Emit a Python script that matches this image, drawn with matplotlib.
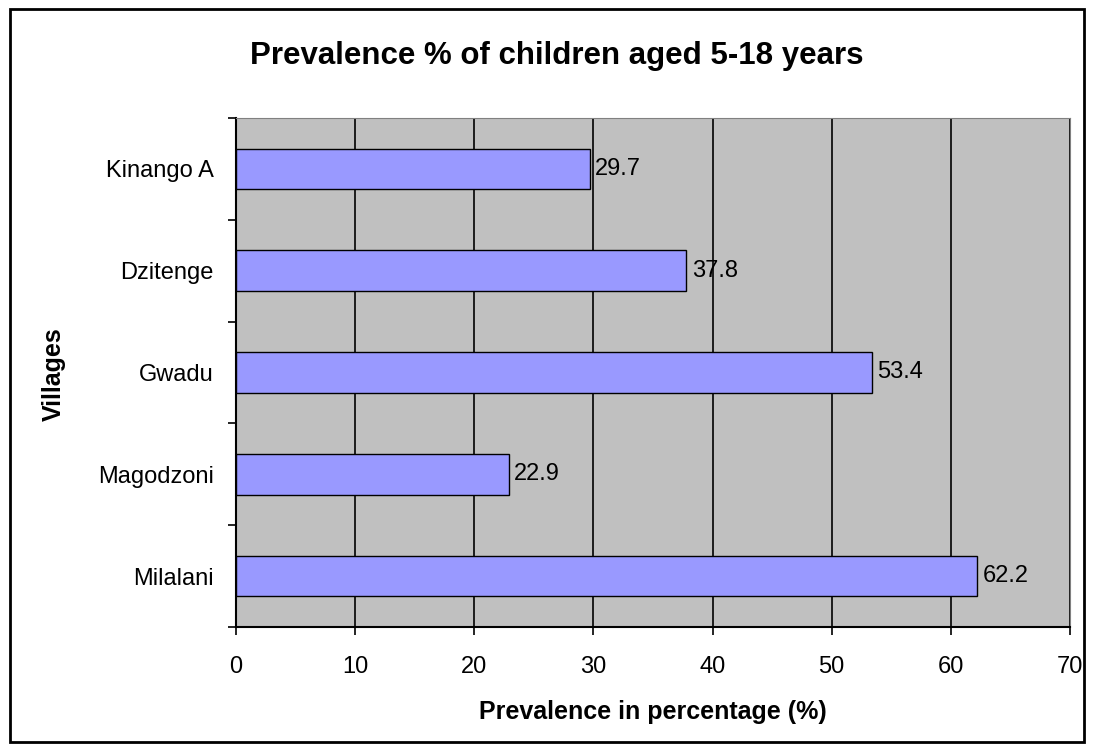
import matplotlib.pyplot as plt
from matplotlib.patches import Rectangle

plt.rcParams['font.family'] = ['Liberation Sans', 'DejaVu Sans']

villages = ['Kinango A', 'Dzitenge', 'Gwadu', 'Magodzoni', 'Milalani']
prevalence = [29.7, 37.8, 53.4, 22.9, 62.2]
x_ticks = [0, 10, 20, 30, 40, 50, 60, 70]

fig = plt.figure(figsize=(10.94, 7.51), dpi=100)
ax = fig.add_axes([0.2157, 0.1651, 0.7623, 0.6778])

# border around the whole figure
fig.patches.append(Rectangle((0.009, 0.012), 0.982, 0.976, transform=fig.transFigure,
                             fill=False, edgecolor='black', linewidth=2))

ax.set_facecolor('#C0C0C0')
pos = list(range(len(villages)))
bars = ax.barh(pos, prevalence, height=0.4, color='#9999FF', edgecolor='black',
               linewidth=1, zorder=3)
for b, v in zip(bars, prevalence):
    ax.text(v + 0.45, b.get_y() + b.get_height() / 2, f'{v}', va='center', ha='left',
            fontsize=17, zorder=4)

ax.set_xlim(0, 70)
ax.set_ylim(len(villages) - 0.5, -0.5)
ax.set_xticks(x_ticks)
ax.xaxis.grid(True, color='black', linewidth=1.2, zorder=1)
ax.set_axisbelow(True)

# category labels centred, tick marks between categories
ax.set_yticks([p - 0.5 for p in pos] + [len(villages) - 0.5])
ax.set_yticklabels([])
ax.set_yticks(pos, minor=True)
ax.set_yticklabels(villages, minor=True, fontsize=17)
ax.tick_params(axis='y', which='minor', length=0, pad=16)
ax.tick_params(axis='y', which='major', length=6, width=1.2, direction='out')
ax.tick_params(axis='x', length=6, width=1.2, direction='out', labelsize=17, pad=15)

for s in ['top', 'right']:
    ax.spines[s].set_color('#808080')
for s in ['left', 'bottom']:
    ax.spines[s].set_color('black')
    ax.spines[s].set_linewidth(1.5)

fig.text(0.509, 1 - 64 / 751, 'Prevalence % of children aged 5-18 years', fontsize=22.5,
         fontweight='bold', ha='center', va='baseline')

ax.set_xlabel('Prevalence in percentage (%)', fontsize=18, fontweight='bold')
ax.xaxis.label.set_va('baseline')
ax.xaxis.set_label_coords(0.5, -0.1807)
ax.set_ylabel('Villages', fontsize=18, fontweight='bold')
ax.yaxis.label.set_va('center')
ax.yaxis.set_label_coords(-0.219, 0.497)

fig.savefig('out.png', dpi=100)
